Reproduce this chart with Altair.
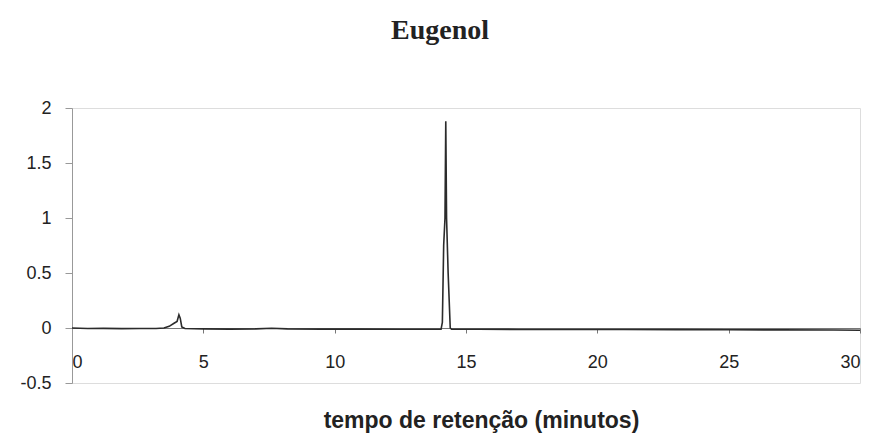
import altair as alt
import pandas as pd

# Retention time (min) and detector signal for the eugenol chromatogram
tempo = [
    0.0, 0.6, 1.2, 1.9, 2.6, 3.2, 3.5, 3.7, 3.9, 4.0, 4.07, 4.12, 4.18, 4.3,
    5.0, 6.0, 7.0, 7.6, 8.2, 9.5, 11.0, 12.5, 13.6, 14.05, 14.1, 14.15,
    14.2, 14.23, 14.26, 14.32, 14.4, 14.45, 15.5, 17.0, 19.0, 21.0, 23.0,
    25.0, 27.0, 29.0, 30.0,
]
sinal = [
    0.0, -0.004, -0.003, -0.006, -0.004, -0.005, 0.0, 0.015, 0.045, 0.06, 0.12, 0.09, 0.01, -0.004,
    -0.008, -0.01, -0.008, -0.002, -0.008, -0.01, -0.01, -0.011, -0.012, -0.012, 0.05, 0.75,
    1.0, 1.88, 1.0, 0.5, 0.0, -0.012, -0.012, -0.013, -0.014, -0.014, -0.015,
    -0.016, -0.017, -0.018, -0.02,
]

x_ticks = [0, 5, 10, 15, 20, 25, 30]
y_ticks = [-0.5, 0, 0.5, 1, 1.5, 2]

df = pd.DataFrame({"tempo": tempo, "sinal": sinal})

PLOT_W, PLOT_H = 788, 275
Y_MIN, Y_MAX = -0.5, 2.0
# shift the x axis up so it crosses the y axis at zero
x_offset = -PLOT_H * (0 - Y_MIN) / (Y_MAX - Y_MIN)

chart = (
    alt.Chart(df)
    .mark_line(color="#2b2b2b", strokeWidth=1.6)
    .encode(
        x=alt.X(
            "tempo:Q",
            scale=alt.Scale(domain=[0, 30], nice=False, zero=False),
            axis=alt.Axis(
                values=x_ticks,
                offset=x_offset,
                grid=False,
                domainColor="#777777",
                tickColor="#777777",
                tickSize=5,
                labelPadding=20,
                labelFontSize=18,
                labelColor="#222222",
                labelFont="Liberation Sans",
                title="tempo de retenção (minutos)",
                titleFont="Liberation Sans",
                titleFontSize=23,
                titleFontWeight="bold",
                titleColor="#222222",
                titleX=409,
                titleY=99,
                titleAlign="center",
                titleBaseline="alphabetic",
            ),
        ),
        y=alt.Y(
            "sinal:Q",
            scale=alt.Scale(domain=[Y_MIN, Y_MAX], nice=False, zero=False),
            axis=alt.Axis(
                values=y_ticks,
                labelExpr="datum.value",
                grid=False,
                domainColor="#999999",
                tickColor="#999999",
                tickSize=7,
                labelPadding=14,
                labelFontSize=18,
                labelColor="#222222",
                labelFont="Liberation Sans",
                title=None,
            ),
        ),
    )
    .properties(
        width=PLOT_W,
        height=PLOT_H,
        autosize=alt.AutoSizeParams(type="none"),
        padding={"left": 72, "top": 108, "right": 17, "bottom": 60},
        title=alt.TitleParams(
            "Eugenol",
            font="Liberation Serif",
            fontSize=28,
            fontWeight="bold",
            color="#222222",
            anchor="middle",
            frame="group",
            baseline="alphabetic",
            offset=32,
            dx=-26,
        ),
    )
    .configure_view(stroke=None)
    .configure(background="white")
)

chart.save("out.html", embed_options={"renderer": "svg", "actions": False})
